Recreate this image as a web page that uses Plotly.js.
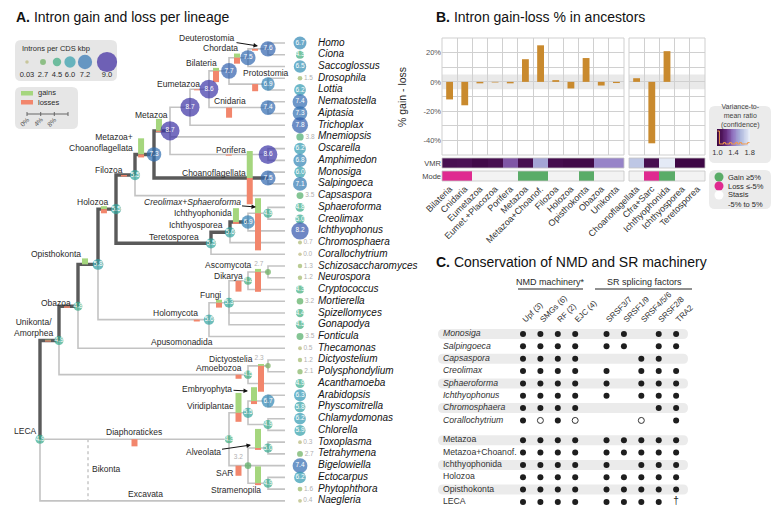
<!DOCTYPE html>
<html>
<head>
<meta charset="utf-8">
<script src="https://cdn.plot.ly/plotly-3.0.1.min.js"></script>
<style>html,body{margin:0;padding:0;background:#fff}#chart{width:773px;height:522px}</style>
</head>
<body>
<div id="chart"></div>
<script>
// ================= DATA =================
// ---- Panel A: tree ----
const leafNames = ['Homo','Ciona','Saccoglossus','Drosophila','Lottia','Nematostella','Aiptasia','Trichoplax','Mnemiopsis','Oscarella','Amphimedon','Monosiga','Salpingoeca','Capsaspora','Sphaeroforma','Creolimax','Ichthyophonus','Chromosphaera','Corallochytrium','Schizosaccharomyces','Neurospora','Cryptococcus','Mortierella','Spizellomyces','Gonapodya','Fonticula','Thecamonas','Dictyostelium','Polysphondylium','Acanthamoeba','Arabidopsis','Physcomitrella','Chlamydomonas','Chlorella','Toxoplasma','Tetrahymena','Bigelowiella','Ectocarpus','Phytophthora','Naegleria'];
const leafValues = [6.7,4.3,6.5,1.5,6.2,7.4,7.3,7.8,3.8,6.2,6.8,6.0,7.1,3.5,4.8,5.0,8.2,0.7,0.0,1.3,1.2,4.3,3.2,4.4,4.5,3.5,0.5,1.2,2.1,4.9,6.3,5.8,6.2,5.9,0.3,2.7,7.4,6.2,1.6,0.4];
const leafParents = ['Chordata','Chordata','Deuterostomia','Protostomia','Protostomia','Cnidaria','Cnidaria','EumetPlac','Metazoa','Porifera','Porifera','Choanoflagellata','Choanoflagellata','Filozoa','CfraSarc','CfraSarc','Ichthyophonida','Ichthyosporea','Teretosporea','Ascomycota','Ascomycota','Dikarya','Fungi','Fungi','Fungi','Holomycota','Obazoa','Dictyostelia','Dictyostelia','Amoebozoa','Embryophyta','Embryophyta','Chlorophyta','Chlorophyta','Alveolata','Alveolata','SAR','Stramenopila','Stramenopila','LECA'];

const nodeNames   = ['LECA','Unikonta','Obazoa','Opisthokonta','Holozoa','Filozoa','MetaChoano','Metazoa','EumetPlac','Eumetazoa','Bilateria','Deuterostomia','Chordata','Protostomia','Cnidaria','Porifera','Choanoflagellata','Teretosporea','Ichthyosporea','Ichthyophonida','CfraSarc','Holomycota','Fungi','Dikarya','Ascomycota','Amoebozoa','Dictyostelia','Diaphoratickes','Viridiplantae','Embryophyta','Chlorophyta','SAR','Alveolata','Stramenopila'];
const nodeParents = ['','LECA','Unikonta','Obazoa','Opisthokonta','Holozoa','Filozoa','MetaChoano','Metazoa','EumetPlac','Eumetazoa','Bilateria','Deuterostomia','Bilateria','Eumetazoa','Metazoa','MetaChoano','Holozoa','Teretosporea','Ichthyosporea','Ichthyophonida','Opisthokonta','Holomycota','Fungi','Dikarya','Unikonta','Amoebozoa','LECA','Diaphoratickes','Viridiplantae','Viridiplantae','Diaphoratickes','SAR','SAR'];
const nodeDepth   = [40,59,78,98,116,135,154,170,190,209,229,248,268,268,268,268,268,211,230,248,268,209,229,248,268,248,268,229,248,268,268,248,268,268];
const nodeValues  = [4.9,4.9,4.8,5.8,5.5,5.5,7.3,8.7,8.7,8.6,7.7,7.5,7.6,6.9,7.4,8.6,7.5,5.5,5.6,6.9,4.9,5.6,5.3,4.2,2.7,4.5,2.3,4.3,5.5,6.7,4.9,3.2,5.0,4.9];
const nodeGains   = [0,0.2,0,1.6,0.8,0,4.3,3.2,0,0,0.8,1.1,0,0,0,0,7.2,0,0,3.7,4.0,0,0.8,0,0.8,0,0.5,0,5.3,3.7,0,0,5.1,4.5];
const nodeLosses  = [0,0.3,0.4,0,1.1,0.4,0.8,0.3,0,0.3,3.0,1.6,0.5,1.9,2.7,0.3,7.0,0,0,0.5,9.9,0.5,1.3,2.9,5.3,1.1,6.9,1.9,2.4,0.8,0,2.7,0.5,0.5];
const legendIntronValues = [0.03,2.7,4.5,6.0,7.2,9.0];

// ---- Panel B ----
const leftCats  = ['Bilateria','Cnidaria','Eumetazoa','Eumet.+Placozoa','Porifera','Metazoa','Metazoa+Choanof.','Filozoa','Holozoa','Opisthokonta','Obazoa','Unikonta'];
const leftPct   = [-12,-16,-1,-0.4,-1,15.5,25,1.2,-4.5,16.3,-2.5,-0.8];
const leftVMR   = [1.07,1.08,1.02,1.06,1.32,1.06,1.52,1.05,1.02,1.02,1.43,1.43];
const leftMode  = ['loss','loss','stasis','stasis','stasis','gain','gain','stasis','stasis','gain','stasis','stasis'];
const rightCats = ['Choanoflagellata','Cfra+Sarc','Ichthyophonida','Ichthyosporea','Teretosporea'];
const rightPct  = [2.5,-42,21,0,0];
const rightVMR  = [1.64,1.06,1.78,1.0,1.0];
const rightMode = ['stasis','loss','gain','stasis','stasis'];
const vmrHistX  = [1.0,1.05,1.1,1.15,1.2,1.25,1.3,1.35,1.4,1.45,1.5,1.55,1.6,1.65,1.7,1.75,1.8];
const vmrHistY  = [0.88,0.12,0.12,0.2,0.12,0.12,0.2,0.12,0.12,0.2,0.12,0.2,0.12,0.12,0.12,0.2,0.2];

// ---- Panel C ----
const nmdCols = ['Upf (3)','SMGs (6)','RF (2)','EJC (4)'];
const srCols  = ['SRSF3/7','SRSF1/9','SRSF4/5/6','SRSF2/8','TRA2'];
const cRows   = ['Monosiga','Salpingoeca','Capsaspora','Creolimax','Sphaeroforma','Ichthyophonus','Chromosphaera','Corallochytrium','Metazoa','Metazoa+Choanof.','Ichthyophonida','Holozoa','Opisthokonta','LECA'];
const cRowIsSpecies = [1,1,1,1,1,1,1,1,0,0,0,0,0,0];
// x = present, o = partial (open), - = absent, t = dagger
const cPresence = ['xxxxxx-xx','xxxxxx-xx','xxxx--xx-','xxxxx-xxx','xxxxx-xxx','xxxxx-xxx','xxxx---xx','xoxo--o-x','xxxxxxxxx','xxxxxxxxx','xxxxx-xxx','xxxxxxxxx','xxxxxxxxx','xxxxxxxxt'];

// ================= LAYOUT HELPERS / STYLE =================
const W = 773, H = 522;
const X = p => p / W, Y = p => 1 - p / H;
const FONT = 'Liberation Sans, Arial, Helvetica, sans-serif';
const TXT = '#2a2a2a';

// Panel A geometry
const A_TOP = 43, A_STEP = 11.74;
const idx = p => (p - A_TOP) / A_STEP;
const LEAF_END = 285, LEAF_X = 300, NAME_X = 318;
const PCT = 3.75 / A_STEP;                 // index units per percent
const sizeOf = v => 3.5 * Math.exp(0.195 * v);
const intronScale = [[0,'#bcb87c'],[0.18,'#94b561'],[0.33,'#5dac5b'],[0.48,'#3cab7a'],[0.6,'#30a79a'],[0.7,'#2f96b3'],[0.78,'#2f7ab3'],[0.85,'#2f60ae'],[0.92,'#3050aa'],[0.955,'#3a33a6'],[1,'#3b27a0']];
const thickSet = new Set(['Unikonta','Obazoa','Opisthokonta','Holozoa','Filozoa','MetaChoano','Metazoa','Choanoflagellata','Teretosporea','Ichthyosporea','Ichthyophonida']);
const alignTo = {LECA:'Diaphoratickes'};
const branchMarkPos = {Choanoflagellata:0.84,Cnidaria:0.34,Holomycota:0.89,Amoebozoa:0.95,Protostomia:0.67,Porifera:0.6,Deuterostomia:0.42,Chordata:0.35,Dictyostelia:0.65,Embryophyta:0.3,Eumetazoa:0.37,Filozoa:0.42,Unikonta:0.42,Obazoa:0.42,Holozoa:0.33,Opisthokonta:0.35,MetaChoano:0.32,Metazoa:0.31,Bilateria:0.35,Ichthyophonida:0.33};

// ---- compute tree positions ----
const pos = {};
leafNames.forEach((n,i)=>{ pos[n] = {x:LEAF_END, y:i}; });
const children = {};
nodeNames.forEach(n=>children[n]=[]);
nodeParents.forEach((p,i)=>{ if(p) children[p].push(nodeNames[i]); });
leafParents.forEach((p,i)=>children[p].push(leafNames[i]));
function nodeY(n){
  if(pos[n]) return pos[n].y;
  const ys = children[n].map(nodeY);
  const y = alignTo[n] ? nodeY(alignTo[n]) : (Math.min(...ys)+Math.max(...ys))/2;
  pos[n] = {x: nodeDepth[nodeNames.indexOf(n)], y};
  return y;
}
nodeY('LECA');

const thin = {x:[],y:[]}, thick = {x:[],y:[]};
function addEdge(p,c){
  const P = pos[p], C = pos[c];
  const t = thickSet.has(c) ? thick : thin;
  t.x.push(P.x,P.x,C.x,null); t.y.push(P.y,C.y,C.y,null);
}
nodeNames.forEach((n,i)=>{ if(nodeParents[i]) addEdge(nodeParents[i], n); });
leafNames.forEach((n,i)=>addEdge(leafParents[i], n));

const gainSeg = {x:[],y:[]}, lossSeg = {x:[],y:[]};
nodeNames.forEach((n,i)=>{
  const p = nodeParents[i]; if(!p) return;
  const P = pos[p], C = pos[n];
  const f = branchMarkPos[n] ?? 0.5;
  const bx = P.x + f*(C.x-P.x);
  if(nodeGains[i]>0){ gainSeg.x.push(bx,bx,null); gainSeg.y.push(C.y, C.y-nodeGains[i]*PCT, null); }
  if(nodeLosses[i]>0){ lossSeg.x.push(bx,bx,null); lossSeg.y.push(C.y, C.y+nodeLosses[i]*PCT, null); }
});

// circles
const circ = nodeNames.map((n,i)=>({x:pos[n].x, y:pos[n].y, v:nodeValues[i], leaf:false}))
  .concat(leafNames.map((n,i)=>({x:LEAF_X, y:i, v:leafValues[i], leaf:true})));
const big = circ.filter(c=>c.v>=4), smallLeaf = circ.filter(c=>c.v<4 && c.leaf), smallNode = circ.filter(c=>c.v<4 && !c.leaf);
function circTrace(arr, mode, tpos, tcolor){
  return {type:'scatter', mode, xaxis:'x', yaxis:'y', cliponaxis:false, hoverinfo:'skip',
    x:arr.map(c=>c.x), y:arr.map(c=>c.y), text:arr.map(c=>c.v.toFixed(1)),
    textposition:tpos, textfont:{family:FONT, size:6.5, color:tcolor},
    marker:{size:arr.map(c=>sizeOf(c.v)), color:arr.map(c=>c.v), colorscale:intronScale, cmin:0, cmax:9, line:{width:0}}};
}

const traces = [];
traces.push({type:'scatter', mode:'lines', xaxis:'x', yaxis:'y', x:thin.x, y:thin.y, line:{color:'#c3c3c3', width:1.6}, hoverinfo:'skip', cliponaxis:false});
traces.push({type:'scatter', mode:'lines', xaxis:'x', yaxis:'y', x:thick.x, y:thick.y, line:{color:'#5a5a5a', width:3.4}, hoverinfo:'skip', cliponaxis:false});
traces.push({type:'scatter', mode:'lines', xaxis:'x', yaxis:'y', x:gainSeg.x, y:gainSeg.y, line:{color:'#a5d67e', width:6}, hoverinfo:'skip'});
traces.push({type:'scatter', mode:'lines', xaxis:'x', yaxis:'y', x:lossSeg.x, y:lossSeg.y, line:{color:'#f2866c', width:6}, hoverinfo:'skip'});
traces.push(circTrace(big, 'markers+text', 'middle center', '#ffffff'));
traces.push(circTrace(smallLeaf, 'markers+text', 'middle right', '#b0b0b0'));
traces.push(circTrace(smallNode, 'markers+text', 'top left', '#b0b0b0'));
traces.push({type:'scatter', mode:'text', xaxis:'x', yaxis:'y', cliponaxis:false, hoverinfo:'skip',
  x:leafNames.map(()=>NAME_X), y:leafNames.map((n,i)=>i), text:leafNames.map(n=>'<i>'+n+'</i>'),
  textposition:'middle right', textfont:{family:FONT, size:10, color:'#111'}});

// Panel A legend (canvas axes x9/y9, pixel units)
const legX = [27,43,57,70,85,107];
traces.push({type:'scatter', mode:'markers', xaxis:'x9', yaxis:'y9', hoverinfo:'skip', cliponaxis:false,
  x:legX, y:legX.map(()=>62), marker:{size:legendIntronValues.map(sizeOf), color:legendIntronValues, colorscale:intronScale, cmin:0, cmax:9, line:{width:0}}});
traces.push({type:'scatter', mode:'text', xaxis:'x9', yaxis:'y9', hoverinfo:'skip', cliponaxis:false,
  x:legX, y:legX.map(()=>75.5), text:legendIntronValues.map(v=>v===0.03?'0.03':v.toFixed(1)), textposition:'middle center', textfont:{family:FONT,size:7.5,color:TXT}});

// ---- Panel B traces ----
const vmrScale = [[0,'#3e0745'],[0.12,'#4c1357'],[0.3,'#6c3389'],[0.5,'#9379c3'],[0.7,'#a9b3db'],[1,'#e9eff8']];
const modeCode = {loss:-1, stasis:0, gain:1};
const modeScale = [[0,'#df2a90'],[0.33,'#df2a90'],[0.34,'#f3f3f3'],[0.66,'#f3f3f3'],[0.67,'#5aac68'],[1,'#5aac68']];
traces.push({type:'bar', xaxis:'x2', yaxis:'y2', x:leftCats, y:leftPct, width:0.45, marker:{color:'#c98a2e'}, hoverinfo:'skip'});
traces.push({type:'bar', xaxis:'x3', yaxis:'y2', x:rightCats, y:rightPct, width:0.45, marker:{color:'#c98a2e'}, hoverinfo:'skip'});
traces.push({type:'heatmap', xaxis:'x2', yaxis:'y4', x:leftCats, y:[0], z:[leftVMR], colorscale:vmrScale, zmin:1, zmax:1.8, showscale:false, hoverinfo:'skip'});
traces.push({type:'heatmap', xaxis:'x3', yaxis:'y4', x:rightCats, y:[0], z:[rightVMR], colorscale:vmrScale, zmin:1, zmax:1.8, showscale:false, hoverinfo:'skip'});
traces.push({type:'heatmap', xaxis:'x2', yaxis:'y5', x:leftCats, y:[0], z:[leftMode.map(m=>modeCode[m])], colorscale:modeScale, zmin:-1, zmax:1, showscale:false, hoverinfo:'skip'});
traces.push({type:'heatmap', xaxis:'x3', yaxis:'y5', x:rightCats, y:[0], z:[rightMode.map(m=>modeCode[m])], colorscale:modeScale, zmin:-1, zmax:1, showscale:false, hoverinfo:'skip'});
// VMR legend ramp
const ramp = []; for(let v=1.0; v<=1.8001; v+=0.02) ramp.push(+v.toFixed(2));
traces.push({type:'heatmap', xaxis:'x6', yaxis:'y6', x:ramp, y:[0.5], z:[ramp], colorscale:vmrScale, zmin:1, zmax:1.8, showscale:false, hoverinfo:'skip'});
traces.push({type:'scatter', mode:'lines', xaxis:'x6', yaxis:'y6', x:vmrHistX, y:vmrHistY, line:{shape:'hv', color:'#f39a4a', width:1}, hoverinfo:'skip'});
// Mode legend
traces.push({type:'scatter', mode:'markers', xaxis:'x9', yaxis:'y9', hoverinfo:'skip', cliponaxis:false,
  x:[719,719,719], y:[177,186,195], marker:{size:9, color:['#5aac68','#df2a90','#ffffff'], line:{width:0}}});

// ---- Panel C traces ----
const cCols = nmdCols.concat(srCols);
const colPos = i => i + (i >= nmdCols.length ? 0.8 : 0);
const rowPos = j => j + (cRowIsSpecies[j] ? 0 : 0.6);
const full = {x:[],y:[]}, open = {x:[],y:[]}, dag = {x:[],y:[]};
cPresence.forEach((s,j)=>{ [...s].forEach((ch,i)=>{
  const t = ch==='x'?full: ch==='o'?open: ch==='t'?dag:null;
  if(t){ t.x.push(colPos(i)); t.y.push(rowPos(j)); }
});});
traces.push({type:'scatter', mode:'markers', xaxis:'x7', yaxis:'y7', x:full.x, y:full.y, marker:{size:6, color:'#1e1e1e'}, hoverinfo:'skip'});
traces.push({type:'scatter', mode:'markers', xaxis:'x7', yaxis:'y7', x:open.x, y:open.y, marker:{size:6, symbol:'circle-open', color:'#333', line:{width:1}}, hoverinfo:'skip'});
traces.push({type:'scatter', mode:'text', xaxis:'x7', yaxis:'y7', x:dag.x, y:dag.y, text:dag.x.map(()=>'†'), textfont:{family:FONT,size:10,color:'#222'}, hoverinfo:'skip'});
traces.push({type:'scatter', mode:'text', xaxis:'x7', yaxis:'y7', cliponaxis:false, hoverinfo:'skip',
  x:cRows.map(()=>-4.6), y:cRows.map((r,j)=>rowPos(j)), text:cRows.map((r,j)=>cRowIsSpecies[j]?'<i>'+r+'</i>':r),
  textposition:'middle right', textfont:{family:FONT,size:8.7,color:'#333'}});

// ================= SHAPES & ANNOTATIONS =================
const shapes = [];
function rrect(x0,y0,x1,y1,r,fill){
  const rx=r/W, ry=r/H;
  const a=X(x0), b=X(x1), t=Y(y0), u=Y(y1);
  const path = `M ${a+rx},${t} L ${b-rx},${t} Q ${b},${t} ${b},${t-ry} L ${b},${u+ry} Q ${b},${u} ${b-rx},${u} L ${a+rx},${u} Q ${a},${u} ${a},${u+ry} L ${a},${t-ry} Q ${a},${t} ${a+rx},${t} Z`;
  return {type:'path', xref:'paper', yref:'paper', path, fillcolor:fill, line:{width:0}, layer:'below'};
}
// Panel A legend boxes
shapes.push(rrect(15,40,117,81,6,'#e6e6e6'));
shapes.push(rrect(15,87,78,129,6,'#e6e6e6'));
shapes.push({type:'rect', xref:'paper', yref:'paper', x0:X(21), x1:X(33), y0:Y(91), y1:Y(95.5), fillcolor:'#a5d67e', line:{width:0}});
shapes.push({type:'rect', xref:'paper', yref:'paper', x0:X(21), x1:X(33), y0:Y(100), y1:Y(104.5), fillcolor:'#f2866c', line:{width:0}});
shapes.push({type:'line', xref:'paper', yref:'paper', x0:X(27), x1:X(68), y0:Y(114), y1:Y(114), line:{color:'#666', width:1}});
[27,40.7,54.3,68].forEach(t=>shapes.push({type:'line', xref:'paper', yref:'paper', x0:X(t), x1:X(t), y0:Y(112), y1:Y(116), line:{color:'#666', width:1}}));
// Bikonta dotted line
shapes.push({type:'line', xref:'x', yref:'y', x0:88, x1:88, y0:pos['Diaphoratickes'].y, y1:pos['Naegleria'].y, line:{color:'#aaa', width:1, dash:'dot'}, layer:'below'});
// Panel B band and frames
['x2','x3'].forEach(ax=>{
  shapes.push({type:'rect', xref:ax+' domain', yref:'y2', x0:0, x1:1, y0:-5, y1:5, fillcolor:'#e9e9e9', line:{width:0}, layer:'below'});
  shapes.push({type:'rect', xref:ax+' domain', yref:'y2 domain', x0:0, x1:1, y0:0, y1:1, line:{color:'#cfcfcf', width:1}});
  shapes.push({type:'rect', xref:ax+' domain', yref:'y4 domain', x0:0, x1:1, y0:0, y1:1, line:{color:'#c4c4c4', width:0.8}});
  shapes.push({type:'rect', xref:ax+' domain', yref:'y5 domain', x0:0, x1:1, y0:0, y1:1, line:{color:'#c4c4c4', width:0.8}});
});
shapes.push(rrect(709,106,771,163,6,'#ebebeb'));
shapes.push(rrect(709,170,771,209,6,'#ebebeb'));
// Panel C bands and header lines
const cRowPx = r => 334 + 12.35*r;
cRows.forEach((r,j)=>{ if(j%2===0) shapes.push(rrect(438, cRowPx(rowPos(j))-5, 688, cRowPx(rowPos(j))+5, 5, '#ebebeb')); });
shapes.push({type:'line', xref:'paper', yref:'paper', x0:X(518), x1:X(583), y0:Y(289), y1:Y(289), line:{color:'#222', width:1}});
shapes.push({type:'line', xref:'paper', yref:'paper', x0:X(595), x1:X(692), y0:Y(289), y1:Y(289), line:{color:'#222', width:1}});

const ann = [];
function pTxt(text,x,y,size,opts){ ann.push(Object.assign({xref:'paper', yref:'paper', x:X(x), y:Y(y), text, showarrow:false, xanchor:'center', yanchor:'middle', font:{family:FONT,size,color:TXT}}, opts||{})); }
pTxt('<b>A.</b> Intron gain and loss per lineage', 14, 17, 14, {xanchor:'left', font:{family:FONT,size:14,color:'#111'}});
pTxt('<b>B.</b> Intron gain-loss % in ancestors', 434, 17, 14, {xanchor:'left', font:{family:FONT,size:14,color:'#111'}});
pTxt('<b>C.</b> Conservation of NMD and SR machinery', 434, 262, 14, {xanchor:'left', font:{family:FONT,size:14,color:'#111'}});
pTxt('Introns per CDS kbp', 20, 48, 7.5, {xanchor:'left'});
pTxt('gains', 36, 93, 7.5, {xanchor:'left'});
pTxt('losses', 36, 102.5, 7.5, {xanchor:'left'});
[['0%',27],['4%',40.7],['8%',54.3]].forEach(([t,x])=>pTxt(t, x-2, 122, 6.5, {textangle:-45, font:{family:FONT,size:6.5,color:'#555'}}));
pTxt('% gain - loss', 402, 97, 10.5, {textangle:-90});
pTxt('Variance-to-<br>mean ratio<br>(confidence)', 740, 116, 7, {font:{family:FONT,size:7,color:'#444'}});
pTxt('Gain ≥5%', 726, 177, 7.5, {xanchor:'left'});
pTxt('Loss ≤-5%', 726, 186, 7.5, {xanchor:'left'});
pTxt('Stasis<br>-5% to 5%', 726, 199, 7.5, {xanchor:'left', align:'left'});
pTxt('NMD machinery*', 550, 282, 9);
pTxt('SR splicing factors', 644, 282, 9);

// clade labels (panel A, x in depth units, y in px converted)
const cladeLabels = [
 {t:'Deuterostomia',x:207,y:38,hx:258,hy:46},{t:'Chordata',x:220,y:48},{t:'Bilateria',x:201,y:63},
 {t:'Protostomia',x:266,y:73},{t:'Eumetazoa',x:178,y:84},{t:'Cnidaria',x:230,y:101},{t:'Metazoa',x:151,y:115},
 {t:'Metazoa+<br>Choanoflagellata',x:135,y:142,xa:'right'},{t:'Porifera',x:231,y:150},{t:'Choanoflagellata',x:214,y:173},
 {t:'Filozoa',x:109,y:170},{t:'Holozoa',x:92,y:202},{t:'<i>Creolimax+Sphaeroforma</i>',x:192,y:202,hx:256,hy:207},
 {t:'Ichthyophonida',x:203,y:213},{t:'Ichthyosporea',x:196,y:225},{t:'Teretosporea',x:174,y:237},
 {t:'Opisthokonta',x:56,y:254},{t:'Ascomycota',x:228,y:265},{t:'Dikarya',x:228,y:276},{t:'Fungi',x:210,y:295},
 {t:'Obazoa',x:56,y:303},{t:'Holomycota',x:175,y:313},{t:'Unikonta/<br>Amorphea',x:33,y:327},
 {t:'Apusomonadida',x:182,y:342},{t:'Dictyostelia',x:231,y:359},{t:'Amoebozoa',x:219,y:368},
 {t:'Embryophyta',x:207,y:389,hx:248,hy:391},{t:'Viridiplantae',x:210,y:406},{t:'LECA',x:25,y:431},
 {t:'Diaphoratickes',x:134,y:432},{t:'Alveolata',x:203,y:452,hx:251,hy:445},{t:'Bikonta',x:106,y:469},
 {t:'SAR',x:224,y:473},{t:'Stramenopila',x:236,y:490},{t:'Excavata',x:145,y:494}
];
cladeLabels.forEach(l=>{
  const a = {xref:'x', yref:'y', text:l.t, font:{family:FONT,size:8.5,color:TXT}, xanchor:l.xa||'center', yanchor:'middle', align:l.xa||'center'};
  if(l.hx!==undefined){
    Object.assign(a, {x:l.hx, y:idx(l.hy), showarrow:true, ax:l.x-l.hx, ay:l.y-l.hy, arrowhead:2, arrowsize:0.9, arrowwidth:1, arrowcolor:'#111', xanchor:'center'});
  } else {
    Object.assign(a, {x:l.x, y:idx(l.y), showarrow:false});
  }
  ann.push(a);
});

// ================= AXES =================
const hidden = {visible:false, showgrid:false, zeroline:false, fixedrange:true};
const catX = (cats, d0, d1) => ({domain:[X(d0),X(d1)], anchor:'y5', type:'category', categoryorder:'array', categoryarray:cats,
  range:[-0.5, cats.length-0.5], tickson:'boundaries', showgrid:true, gridcolor:'#d0d0d0', gridwidth:1, ticks:'', zeroline:false, showline:false,
  tickangle:-45, tickfont:{family:FONT,size:9,color:'#333'}, fixedrange:true});
const rowY = (d0,d1,label) => ({domain:[Y(d1),Y(d0)], anchor:'x2', range:[-0.5,0.5], tickvals:[0], ticktext:[label], showgrid:false, zeroline:false, ticks:'', tickfont:{family:FONT,size:7.5,color:'#444'}, fixedrange:true});

const layout = {
  width:W, height:H, margin:{l:0,r:0,t:0,b:0}, paper_bgcolor:'#ffffff', plot_bgcolor:'rgba(0,0,0,0)',
  showlegend:false, barmode:'overlay', font:{family:FONT, color:TXT},
  xaxis: Object.assign({}, hidden, {domain:[0, X(390)], range:[0,390], anchor:'y'}),
  yaxis: Object.assign({}, hidden, {domain:[0,1], range:[idx(H), idx(0)], anchor:'x'}),
  xaxis2: catX(leftCats, 442, 624),
  xaxis3: catX(rightCats, 629, 705),
  yaxis2: {domain:[Y(155),Y(38)], anchor:'x2', range:[-50,30], tickvals:[-50,-40,-30,-20,-10,0,10,20,30],
           ticktext:['','-40%','','-20%','','0%','','20%',''], showgrid:true, gridcolor:'#d0d0d0', zeroline:false, ticks:'',
           tickfont:{family:FONT,size:7.5,color:'#555'}, fixedrange:true},
  yaxis4: rowY(158,168,'VMR'),
  yaxis5: rowY(171,181,'Mode'),
  xaxis6: {domain:[X(717),X(750)], anchor:'y6', range:[0.99,1.81], tickvals:[1.0,1.4,1.8], ticktext:['1.0','1.4','1.8'], ticks:'', showgrid:false, zeroline:false, tickfont:{family:FONT,size:7.5,color:'#333'}, fixedrange:true},
  yaxis6: Object.assign({}, hidden, {domain:[Y(146),Y(129)], range:[0,1], anchor:'x6'}),
  xaxis7: {domain:[X(427.3),X(697)], anchor:'y7', range:[-5.5,10], side:'top', tickvals:cCols.map((c,i)=>colPos(i)), ticktext:cCols,
           tickangle:-45, ticks:'', showgrid:false, zeroline:false, showline:false, tickfont:{family:FONT,size:8,color:'#333'}, fixedrange:true},
  yaxis7: Object.assign({}, hidden, {domain:[Y(cRowPx(14.2)), Y(cRowPx(-0.6))], range:[14.2,-0.6], anchor:'x7'}),
  xaxis9: Object.assign({}, hidden, {domain:[0,1], range:[0,W], anchor:'y9'}),
  yaxis9: Object.assign({}, hidden, {domain:[0,1], range:[H,0], anchor:'x9'}),
  shapes, annotations: ann
};

Plotly.newPlot('chart', traces, layout, {staticPlot:true, displayModeBar:false});
</script>
</body>
</html>
